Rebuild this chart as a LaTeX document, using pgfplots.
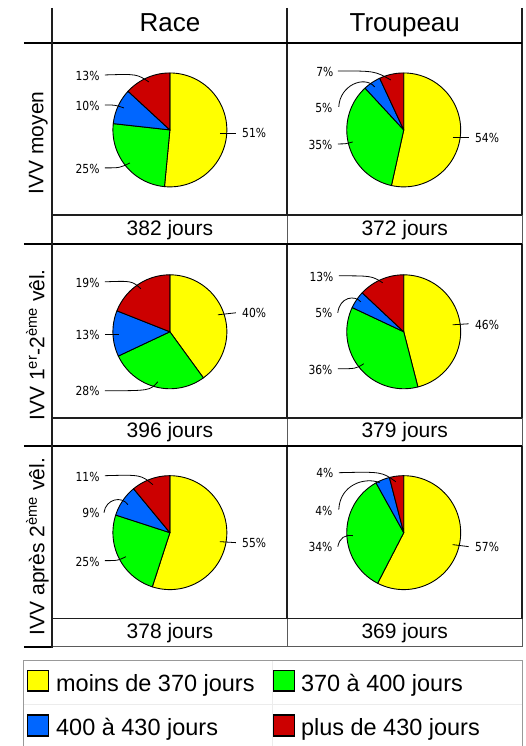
\documentclass[border=0pt]{standalone}
\usepackage{fontspec}
\setmainfont{Liberation Sans}
\newfontfamily\pctfont[FakeStretch=0.86]{DejaVu Sans}
\usepackage{pgfplots}
\pgfplotsset{compat=1.18}
\definecolor{cyel}{RGB}{255,255,0}
\definecolor{cgreen}{RGB}{0,255,0}
\definecolor{cblue}{RGB}{0,102,255}
\definecolor{cred}{RGB}{204,0,0}
\definecolor{cthick}{RGB}{30,30,30}
\definecolor{cthin}{RGB}{90,90,90}

% pie: cx, cy, moins, 370-400, 400-430, plus
\newcommand{\pie}[6]{%
  \pgfmathsetmacro\tot{#3+#4+#5+#6}%
  \pgfmathsetmacro\aA{90-360*((#3)/\tot)}%
  \pgfmathsetmacro\aB{\aA-360*((#4)/\tot)}%
  \pgfmathsetmacro\aC{\aB-360*((#5)/\tot)}%
  \addplot[fill=cyel,draw=black,line width=0.9pt,line join=round,domain=\aA:90,samples=60,variable=\t]
    ({#1+57*cos(\t)},{#2-57*sin(\t)}) -- (axis cs:#1,#2) -- cycle;
  \addplot[fill=cgreen,draw=black,line width=0.9pt,line join=round,domain=\aB:\aA,samples=60,variable=\t]
    ({#1+57*cos(\t)},{#2-57*sin(\t)}) -- (axis cs:#1,#2) -- cycle;
  \addplot[fill=cblue,draw=black,line width=0.9pt,line join=round,domain=\aC:\aB,samples=40,variable=\t]
    ({#1+57*cos(\t)},{#2-57*sin(\t)}) -- (axis cs:#1,#2) -- cycle;
  \addplot[fill=cred,draw=black,line width=0.9pt,line join=round,domain=-270:\aC,samples=40,variable=\t]
    ({#1+57*cos(\t)},{#2-57*sin(\t)}) -- (axis cs:#1,#2) -- cycle;
}
\newcommand{\pl}[3]{\node[anchor=east,inner sep=0pt,font=\fontsize{12.5}{14}\pctfont] at (axis cs:#1,#2) {#3\%};}
\newcommand{\pr}[3]{\node[anchor=west,inner sep=0pt,font=\fontsize{12.5}{14}\pctfont] at (axis cs:#1,#2) {#3\%};}

\begin{document}
\begin{tikzpicture}
\begin{axis}[
  width=526pt, height=746pt, scale only axis,
  xmin=0, xmax=526, ymin=0, ymax=746, y dir=reverse,
  enlargelimits=false, hide axis, clip=false,
]
\path (axis cs:0,0) rectangle (axis cs:526,746);
% ---------- grid ----------
\draw[cthin,line width=1pt] (axis cs:52.5,215) -- (axis cs:52.5,244);
\draw[cthin,line width=1pt] (axis cs:287.5,215) -- (axis cs:287.5,244) (axis cs:287.5,418) -- (axis cs:287.5,446) (axis cs:287.5,619) -- (axis cs:287.5,647);
\draw[cthin,line width=1pt] (axis cs:522.5,215) -- (axis cs:522.5,244) (axis cs:522.5,418) -- (axis cs:522.5,446) (axis cs:522.5,619) -- (axis cs:522.5,647);
\draw[cthin,line width=1pt] (axis cs:52.5,647) -- (axis cs:522.5,647);
\draw[cthick,line width=1.8pt] (axis cs:287.5,8) -- (axis cs:287.5,215) (axis cs:287.5,244) -- (axis cs:287.5,418) (axis cs:287.5,446) -- (axis cs:287.5,619);
\draw[cthick,line width=1.8pt] (axis cs:522.5,8) -- (axis cs:522.5,215) (axis cs:522.5,244) -- (axis cs:522.5,418) (axis cs:522.5,446) -- (axis cs:522.5,619);
\draw[cthick,line width=1.8pt] (axis cs:52.5,215) -- (axis cs:522.5,215) (axis cs:52.5,418) -- (axis cs:522.5,418) (axis cs:52.5,619) -- (axis cs:522.5,619);
\draw[black,line width=2pt] (axis cs:24,43) -- (axis cs:522.5,43) (axis cs:24,244) -- (axis cs:522.5,244) (axis cs:24,446) -- (axis cs:522.5,446) (axis cs:24,647) -- (axis cs:52.5,647);
\draw[cthick,line width=2pt] (axis cs:52.5,8) -- (axis cs:52.5,648);
% ---------- headers ----------
\node[anchor=base,inner sep=0pt,font=\fontsize{26}{30}\selectfont] at (axis cs:170,32) {Race};
\node[anchor=base,inner sep=0pt,font=\fontsize{26}{30}\selectfont] at (axis cs:405,32) {Troupeau};
\node[anchor=base,rotate=90,inner sep=0pt,font=\fontsize{21}{24}\selectfont] at (axis cs:43.5,143) {IVV moyen};
\node[anchor=base,rotate=90,inner sep=0pt,font=\fontsize{21}{24}\selectfont] at (axis cs:44.5,345) {IVV 1\textsuperscript{er}-2\textsuperscript{ème} vêl.};
\node[anchor=base,rotate=90,inner sep=0pt,font=\fontsize{21}{24}\selectfont] at (axis cs:44.5,547) {IVV après 2\textsuperscript{ème} vêl.};
% ---------- jours ----------
\node[anchor=base,inner sep=0pt,font=\fontsize{21}{24}\selectfont] at (axis cs:170,236) {382 jours};
\node[anchor=base,inner sep=0pt,font=\fontsize{21}{24}\selectfont] at (axis cs:405,236) {372 jours};
\node[anchor=base,inner sep=0pt,font=\fontsize{21}{24}\selectfont] at (axis cs:170,437.5) {396 jours};
\node[anchor=base,inner sep=0pt,font=\fontsize{21}{24}\selectfont] at (axis cs:405,437.5) {379 jours};
\node[anchor=base,inner sep=0pt,font=\fontsize{21}{24}\selectfont] at (axis cs:170,639) {378 jours};
\node[anchor=base,inner sep=0pt,font=\fontsize{21}{24}\selectfont] at (axis cs:405,639) {369 jours};
% ---------- pies ----------
\pie{170}{130}{51}{25}{10}{13}
\pie{404}{130}{54}{35}{5}{7}
\pie{170}{332}{40}{28}{13}{19}
\pie{404}{332}{46}{36}{5}{13}
\pie{170}{533}{55}{25}{9}{11}
\pie{404}{533}{57}{34}{4}{4}
% ---------- leaders & labels ----------
\begin{scope}[line width=0.8pt]
% Race row 1
\draw (axis cs:220,133) -- (axis cs:236,133); \pr{242}{133}{51}
\draw (axis cs:105,168) .. controls (axis cs:120,168) .. (axis cs:130,163); \pl{100}{169}{25}
\draw (axis cs:105,105) .. controls (axis cs:115,105) .. (axis cs:124,108); \pl{100}{106}{10}
\draw (axis cs:105,75) .. controls (axis cs:137,74) .. (axis cs:149,82); \pl{100}{76}{13}
% Troupeau row 1
\draw (axis cs:453,137) -- (axis cs:469,137); \pr{475}{138}{54}
\draw (axis cs:338,144) .. controls (axis cs:346,144) .. (axis cs:353,142); \pl{333}{145}{35}
\draw (axis cs:339,107) .. controls (axis cs:340,85) and (axis cs:365,75) .. (axis cs:375,87); \pl{333}{108}{5}
\draw (axis cs:338,71) .. controls (axis cs:375,71) .. (axis cs:391,80); \pl{334}{72}{7}
% Race row 2
\draw (axis cs:218,315) -- (axis cs:236,313); \pr{242}{313}{40}
\draw (axis cs:105,391) .. controls (axis cs:150,391) .. (axis cs:158,382); \pl{100}{391}{28}
\draw (axis cs:105,335) -- (axis cs:119,335); \pl{100}{335}{13}
\draw (axis cs:105,282) .. controls (axis cs:132,281) .. (axis cs:141,289); \pl{100}{283}{19}
% Troupeau row 2
\draw (axis cs:453,325) -- (axis cs:469,324); \pr{475}{325}{46}
\draw (axis cs:338,369) .. controls (axis cs:356,369) .. (axis cs:364,364); \pl{333}{370}{36}
\draw (axis cs:338,313) .. controls (axis cs:340,297) and (axis cs:355,295) .. (axis cs:361,302); \pl{333}{313}{5}
\draw (axis cs:339,276) .. controls (axis cs:372,276) .. (axis cs:383,283); \pl{334}{277}{13}
% Race row 3
\draw (axis cs:220,542) -- (axis cs:236,543); \pr{242}{543}{55}
\draw (axis cs:105,561) .. controls (axis cs:118,561) .. (axis cs:126,557); \pl{100}{562}{25}
\draw (axis cs:104,513) .. controls (axis cs:106,499) and (axis cs:122,496) .. (axis cs:128,505); \pl{100}{513}{9}
\draw (axis cs:105,476) .. controls (axis cs:141,475) .. (axis cs:153,485); \pl{100}{477}{11}
% Troupeau row 3
\draw (axis cs:453,545) -- (axis cs:469,547); \pr{475}{547}{57}
\draw (axis cs:338,547) .. controls (axis cs:340,538) and (axis cs:345,535) .. (axis cs:353,536); \pl{333}{547}{34}
\draw (axis cs:339,510) .. controls (axis cs:340,485) and (axis cs:365,477) .. (axis cs:380,483); \pl{333}{511}{4}
\draw (axis cs:339,473) .. controls (axis cs:382,472) .. (axis cs:396,482); \pl{334}{473}{4}
\end{scope}
% ---------- legend ----------
\draw[gray!15,line width=0.8pt] (axis cs:272.5,661) -- (axis cs:272.5,746) (axis cs:24,705) -- (axis cs:522.5,705);
\draw[gray!80,line width=1pt] (axis cs:24,746) -- (axis cs:24,661) -- (axis cs:522.5,661) -- (axis cs:522.5,746);
\draw[black,line width=1.3pt,fill=cyel] (axis cs:27.5,671) rectangle (axis cs:48.5,691.5);
\draw[black,line width=1.3pt,fill=cgreen] (axis cs:273.5,671) rectangle (axis cs:294.5,691.5);
\draw[black,line width=1.3pt,fill=cblue] (axis cs:27.5,715.5) rectangle (axis cs:48.5,736.5);
\draw[black,line width=1.3pt,fill=cred] (axis cs:273.5,715.5) rectangle (axis cs:294.5,736.5);
\node[anchor=base west,inner sep=0pt,font=\fontsize{23.5}{27}\selectfont] at (axis cs:56,692) {moins de 370 jours};
\node[anchor=base west,inner sep=0pt,font=\fontsize{23.5}{27}\selectfont] at (axis cs:301,692) {370 à 400 jours};
\node[anchor=base west,inner sep=0pt,font=\fontsize{23.5}{27}\selectfont] at (axis cs:56,736) {400 à 430 jours};
\node[anchor=base west,inner sep=0pt,font=\fontsize{23.5}{27}\selectfont] at (axis cs:301,736) {plus de 430 jours};
\end{axis}
\end{tikzpicture}
\end{document}
